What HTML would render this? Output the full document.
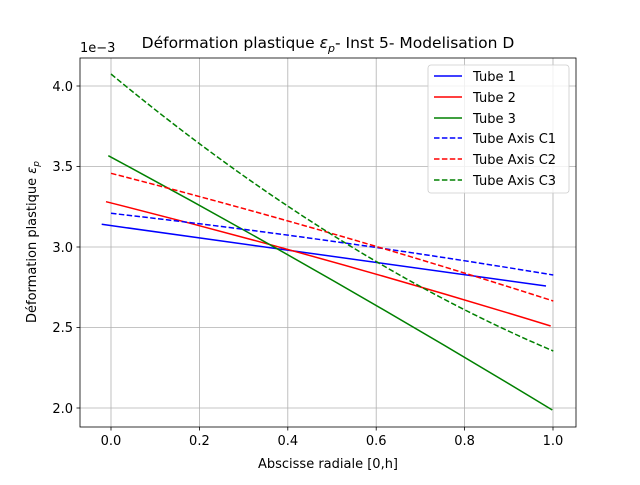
<!DOCTYPE html>
<html><head><meta charset="utf-8"><style>
body{margin:0;background:#fff}
svg text{font-family:"DejaVu Sans","Liberation Sans",sans-serif;fill:#000}
</style></head><body>
<svg width="640" height="480" viewBox="0 0 640 480" xmlns="http://www.w3.org/2000/svg">
<rect width="640" height="480" fill="#fff"/>
<g stroke="#b0b0b0" stroke-width="0.8">
<line x1="111" y1="58" x2="111" y2="427"/>
<line x1="199.4" y1="58" x2="199.4" y2="427"/>
<line x1="287.8" y1="58" x2="287.8" y2="427"/>
<line x1="376.2" y1="58" x2="376.2" y2="427"/>
<line x1="464.6" y1="58" x2="464.6" y2="427"/>
<line x1="553" y1="58" x2="553" y2="427"/>
<line x1="80" y1="408" x2="576" y2="408"/>
<line x1="80" y1="327.5" x2="576" y2="327.5"/>
<line x1="80" y1="247" x2="576" y2="247"/>
<line x1="80" y1="166.5" x2="576" y2="166.5"/>
<line x1="80" y1="86" x2="576" y2="86"/>
</g>
<g fill="none" stroke-width="1.5">
<line x1="101.7" y1="224.3" x2="546" y2="286" stroke="#0000ff"/>
<path d="M106,201.7 Q330,258 550.7,326" stroke="#ff0000"/>
<path d="M108.3,155.7 Q330,275 552.3,410" stroke="#008000"/>
<path d="M111,213.3 Q330,238 553.3,275" stroke="#0000ff" stroke-dasharray="5.5,2.4"/>
<path d="M111,173.3 Q332,230 553.3,301" stroke="#ff0000" stroke-dasharray="5.5,2.4"/>
<path d="M111,74 Q332.2,257.2 553.3,351" stroke="#008000" stroke-dasharray="5.5,2.4"/>
</g>
<rect x="80" y="58" width="496" height="369" fill="none" stroke="#000" stroke-width="0.8"/>
<g stroke="#000" stroke-width="0.8">
<line x1="111" y1="427" x2="111" y2="430.5"/><line x1="199.4" y1="427" x2="199.4" y2="430.5"/>
<line x1="287.8" y1="427" x2="287.8" y2="430.5"/><line x1="376.2" y1="427" x2="376.2" y2="430.5"/>
<line x1="464.6" y1="427" x2="464.6" y2="430.5"/><line x1="553" y1="427" x2="553" y2="430.5"/>
<line x1="76.5" y1="408" x2="80" y2="408"/><line x1="76.5" y1="327.5" x2="80" y2="327.5"/>
<line x1="76.5" y1="247" x2="80" y2="247"/><line x1="76.5" y1="166.5" x2="80" y2="166.5"/>
<line x1="76.5" y1="86" x2="80" y2="86"/>
</g>
<g font-size="13" text-anchor="middle">
<text x="111" y="445">0.0</text><text x="199.4" y="445">0.2</text><text x="287.8" y="445">0.4</text>
<text x="376.2" y="445">0.6</text><text x="464.6" y="445">0.8</text><text x="553" y="445">1.0</text>
</g>
<g font-size="13" text-anchor="end">
<text x="73" y="413">2.0</text><text x="73" y="332">2.5</text><text x="73" y="252">3.0</text>
<text x="73" y="171">3.5</text><text x="73" y="91">4.0</text>
</g>
<text x="80" y="52" font-size="13">1e−3</text>
<text x="328" y="468" font-size="13" text-anchor="middle">Abscisse radiale [0,h]</text>
<text transform="translate(36,242) rotate(-90)" font-size="13" text-anchor="middle">Déformation plastique <tspan font-style="italic">ε</tspan><tspan font-size="9" font-style="italic" dy="3">p</tspan></text>
<text x="328" y="48" font-size="15.5" text-anchor="middle">Déformation plastique <tspan font-style="italic">ε</tspan><tspan font-size="11" font-style="italic" dy="4">p</tspan><tspan dy="-4">- Inst 5- Modelisation D</tspan></text>
<rect x="428" y="65" width="141" height="128" rx="3" fill="#fff" fill-opacity="0.8" stroke="#cccccc" stroke-width="0.8"/>
<g stroke-width="1.5">
<line x1="434" y1="76" x2="462" y2="76" stroke="#0000ff"/>
<line x1="434" y1="97" x2="462" y2="97" stroke="#ff0000"/>
<line x1="434" y1="118" x2="462" y2="118" stroke="#008000"/>
<line x1="434" y1="138" x2="462" y2="138" stroke="#0000ff" stroke-dasharray="5.5,2.4"/>
<line x1="434" y1="159" x2="462" y2="159" stroke="#ff0000" stroke-dasharray="5.5,2.4"/>
<line x1="434" y1="180" x2="462" y2="180" stroke="#008000" stroke-dasharray="5.5,2.4"/>
</g>
<g font-size="13">
<text x="473" y="81">Tube 1</text><text x="473" y="102">Tube 2</text><text x="473" y="123">Tube 3</text>
<text x="473" y="143">Tube Axis C1</text><text x="473" y="164">Tube Axis C2</text><text x="473" y="185">Tube Axis C3</text>
</g>
</svg>
</body></html>
